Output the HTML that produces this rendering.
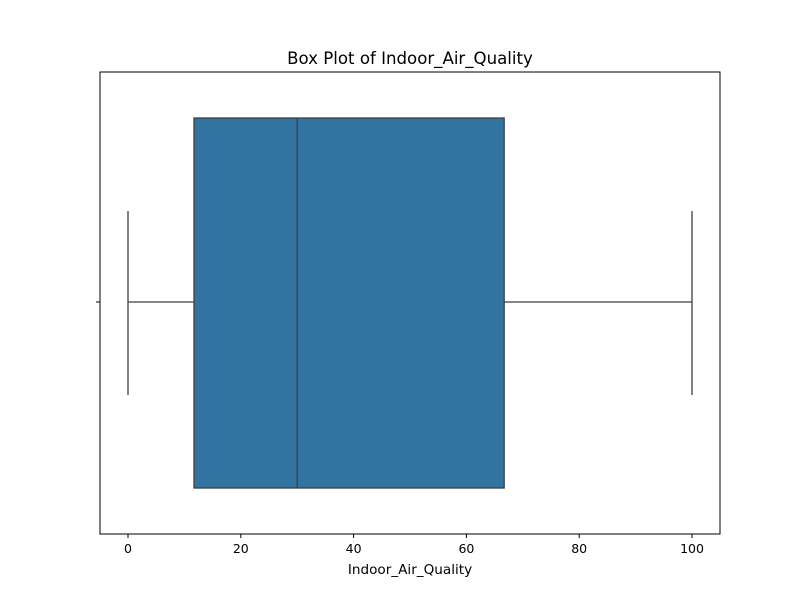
<!DOCTYPE html>
<html><head><meta charset="utf-8"><style>
body{margin:0;background:#fff;font-family:"DejaVu Sans","Liberation Sans",sans-serif;}
</style></head><body>
<svg id="chart" width="800" height="600" xmlns="http://www.w3.org/2000/svg"></svg>
<script>
const tickValues=[0,20,40,60,80,100];
const tickLabels=["0","20","40","60","80","100"];
const whiskerLow=[0];
const quartile1=[11.7];
const medianVal=[30.0];
const quartile3=[66.7];
const whiskerHigh=[100];

const NS="http://www.w3.org/2000/svg";
const svg=document.getElementById('chart');
const L=100,R=720,T=72,B=534;
const x=v=>128+v*5.64;
const cy=302;
function mk(tag,attrs,name){const e=document.createElementNS(NS,tag);for(const k in attrs)e.setAttribute(k,attrs[k]);


svg.appendChild(e);return e;}
const t=mk('text',{x:410,y:64,'text-anchor':'middle','font-size':16.6,fill:'#000'},'chart-title');t.textContent='Box Plot of Indoor_Air_Quality';
const col='#3f3f3f';
mk('line',{x1:x(whiskerLow[0]),x2:x(quartile1[0]),y1:cy,y2:cy,stroke:col,'stroke-width':1.3},'lower-whisker');
mk('line',{x1:x(quartile3[0]),x2:x(whiskerHigh[0]),y1:cy,y2:cy,stroke:col,'stroke-width':1.3},'upper-whisker');
mk('line',{x1:x(whiskerLow[0]),x2:x(whiskerLow[0]),y1:211,y2:395,stroke:col,'stroke-width':1.3},'lower-cap');
mk('line',{x1:x(whiskerHigh[0]),x2:x(whiskerHigh[0]),y1:211,y2:395,stroke:col,'stroke-width':1.3},'upper-cap');
mk('rect',{x:x(quartile1[0]),y:118,width:x(quartile3[0])-x(quartile1[0]),height:370,fill:'#3274a1',stroke:col,'stroke-width':1.3},'box-iqr');
mk('line',{x1:x(medianVal[0]),x2:x(medianVal[0]),y1:118,y2:488,stroke:col,'stroke-width':1.3},'median-line');
mk('rect',{x:L,y:T,width:R-L,height:B-T,fill:'none',stroke:'#000','stroke-width':1},'plot-frame');
mk('line',{x1:L-4,x2:L,y1:cy,y2:cy,stroke:'#000','stroke-width':1},'y-tick');
tickValues.forEach((v,i)=>{
 mk('line',{x1:x(v),x2:x(v),y1:B,y2:B+4,stroke:'#000','stroke-width':1},'x-tick');
 const l=mk('text',{x:x(v),y:553,'text-anchor':'middle','font-size':12.5,fill:'#000'},'x-tick-label');l.textContent=tickLabels[i];
});
const xl=mk('text',{x:410,y:574,'text-anchor':'middle','font-size':13.6,fill:'#000'},'x-axis-title');xl.textContent='Indoor_Air_Quality';
</script>
</body></html>
